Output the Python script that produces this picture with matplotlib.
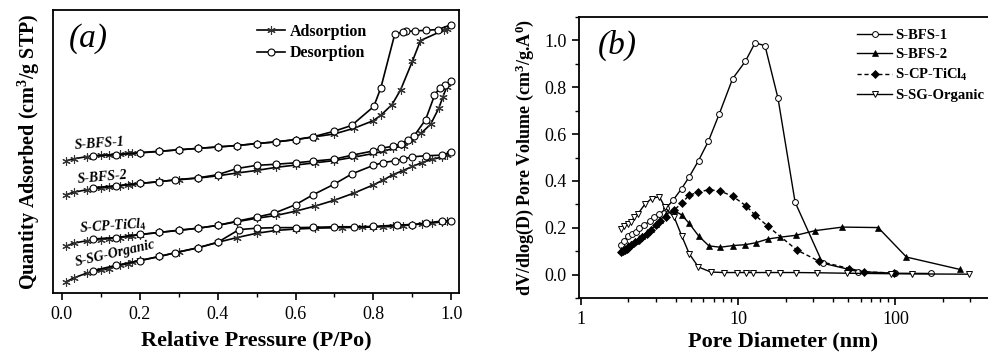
import matplotlib
matplotlib.use("Agg")
import matplotlib.pyplot as plt
from matplotlib.ticker import MultipleLocator, LogLocator, NullFormatter, NullLocator

plt.rcParams['font.family'] = ['Liberation Serif', 'DejaVu Serif']
plt.rcParams['mathtext.fontset'] = 'custom'
plt.rcParams['mathtext.rm'] = 'Liberation Serif'
plt.rcParams['mathtext.bf'] = 'Liberation Serif:bold'
plt.rcParams['mathtext.it'] = 'Liberation Serif:italic'
plt.rcParams['mathtext.default'] = 'bf'

# ---------------- Panel (a): isotherms (arbitrary units, no y scale) ----------------
bfs1_ads_p = [0.01,0.03,0.065,0.1,0.12,0.15,0.17,0.18,0.2,0.25,0.3,0.35,0.4,0.45,0.5,0.55,0.6,0.65,0.7,0.75,0.8,0.82,0.848,0.87,0.9,0.921,0.981,0.99]
bfs1_ads_q = [46.7,47.4,48.2,48.7,48.8,49.2,49.3,49.4,49.6,50.1,50.6,51.1,51.6,52.1,52.8,53.4,54.2,55.2,56.2,58.2,60.9,62.9,66.6,71.8,81.8,89.2,92.9,93.4]
bfs1_des_p = [1.0,0.966,0.934,0.906,0.883,0.877,0.855,0.819,0.801,0.744,0.698,0.645,0.6,0.55,0.5,0.45,0.4,0.35,0.3,0.25,0.2,0.14,0.08]
bfs1_des_q = [94.8,93.1,92.8,92.6,92.4,92.2,91.5,72.4,65.9,59.2,57.1,55.2,54.2,53.4,52.8,52.1,51.6,51.1,50.6,50.0,49.5,48.9,48.4]

bfs2_ads_p = [0.01,0.03,0.065,0.1,0.12,0.15,0.17,0.18,0.2,0.25,0.3,0.35,0.4,0.45,0.5,0.55,0.6,0.65,0.7,0.75,0.8,0.825,0.85,0.878,0.9,0.923,0.947,0.968,0.979,0.988]
bfs2_ads_q = [34.7,35.6,36.5,37.1,37.3,37.9,38.2,38.5,38.7,39.4,40.0,40.6,41.4,42.4,43.3,44.4,45.2,46.0,46.8,48.0,49.3,50.0,51.1,52.1,54.1,56.5,59.6,65.3,69.4,72.7]
bfs2_des_p = [1.0,0.985,0.97,0.957,0.934,0.905,0.888,0.87,0.85,0.82,0.8,0.745,0.7,0.645,0.6,0.55,0.5,0.45,0.4,0.35,0.29,0.25,0.2,0.14,0.08]
bfs2_des_q = [74.9,73.5,72.5,69.8,61.2,55.6,54.1,52.7,51.8,51.2,50.2,48.7,47.3,46.6,46.0,45.5,45.1,44.0,41.8,40.7,40.0,39.3,38.7,37.9,37.2]

cp_ads_p = [0.01,0.03,0.065,0.1,0.12,0.15,0.17,0.18,0.2,0.25,0.3,0.35,0.4,0.45,0.5,0.55,0.6,0.65,0.7,0.75,0.8,0.825,0.85,0.875,0.9,0.925,0.95,0.975,0.99]
cp_ads_q = [16.5,17.6,18.5,18.9,19.2,19.6,20.0,20.2,20.6,21.4,22.2,22.9,23.9,25.2,26.4,27.4,28.9,30.7,32.8,35.3,38.2,39.9,41.8,43.2,44.7,46.1,47.2,48.0,48.6]
cp_des_p = [1.0,0.975,0.935,0.9,0.875,0.855,0.825,0.8,0.745,0.7,0.645,0.6,0.545,0.5,0.45,0.4,0.35,0.3,0.25,0.2,0.14,0.08]
cp_des_q = [49.8,48.7,48.5,48.1,47.3,46.7,46.1,45.1,42.1,38.5,34.7,31.2,28.2,26.8,25.4,23.9,22.9,22.1,21.4,20.7,19.6,19.1]

sg_ads_p = [0.01,0.03,0.065,0.1,0.12,0.15,0.17,0.18,0.2,0.25,0.3,0.35,0.4,0.45,0.5,0.55,0.6,0.65,0.72,0.77,0.8,0.825,0.85,0.875,0.9,0.925,0.95,0.975,0.99]
sg_ads_q = [3.9,5.3,7.1,8.0,8.6,9.8,10.4,10.8,11.5,12.9,14.5,16.0,17.9,19.6,21.1,22.1,22.6,22.9,23.1,23.2,23.3,23.4,23.5,23.8,24.1,24.4,24.7,25.1,25.4]
sg_des_p = [1.0,0.975,0.935,0.9,0.86,0.8,0.75,0.7,0.645,0.6,0.55,0.5,0.455,0.4,0.35,0.29,0.25,0.2,0.14,0.08]
sg_des_q = [25.6,25.4,24.7,24.2,24.0,23.5,23.4,23.4,23.2,23.1,23.1,22.9,22.4,17.9,16.0,14.2,12.9,11.4,9.8,7.9]

iso_names = ['S-BFS-1', 'S-BFS-2', 'S-CP-TiCl$_4$', 'S-SG-Organic']
a_xticks = [0.0, 0.2, 0.4, 0.6, 0.8, 1.0]

# ---------------- Panel (b): pore size distributions ----------------
bfs1_d = [1.80,1.88,1.98,2.10,2.24,2.35,2.53,2.76,2.92,3.15,3.47,3.86,4.36,4.88,5.59,6.46,7.57,9.2,11.1,12.8,14.8,17.9,23.0,34.4,58,100,168]
bfs1_v = [0.127,0.143,0.164,0.172,0.184,0.198,0.213,0.23,0.244,0.257,0.283,0.319,0.367,0.418,0.487,0.570,0.686,0.836,0.911,0.990,0.977,0.753,0.309,0.049,0.013,0.006,0.005]

bfs2_d = [1.80,1.85,1.90,1.95,2.0,2.08,2.2,2.32,2.45,2.61,2.8,3.0,3.2,3.47,3.9,4.36,4.86,5.6,6.5,7.7,9.2,11.1,12.9,15.4,18.5,23.3,30.9,46,77.6,117.5,258]
bfs2_v = [0.105,0.11,0.115,0.12,0.125,0.13,0.142,0.155,0.165,0.18,0.195,0.215,0.235,0.258,0.275,0.255,0.22,0.165,0.123,0.117,0.124,0.128,0.136,0.152,0.16,0.168,0.188,0.203,0.201,0.075,0.022]

cp_d = [1.80,1.85,1.90,1.95,2.0,2.08,2.2,2.32,2.45,2.61,2.8,3.0,3.2,3.47,3.9,4.36,4.86,5.58,6.47,7.6,9.2,11.2,12.8,15.4,23.6,32.7,51,63,98]
cp_v = [0.095,0.10,0.105,0.11,0.115,0.125,0.138,0.15,0.16,0.172,0.19,0.21,0.228,0.248,0.275,0.305,0.338,0.353,0.362,0.358,0.335,0.294,0.254,0.207,0.105,0.057,0.026,0.012,0.007]

sg_d = [1.80,1.88,1.98,2.08,2.18,2.29,2.55,2.81,3.15,3.42,3.92,4.36,4.88,5.57,6.7,8.15,9.77,11.2,12.5,15.4,18.4,23.3,31.9,49.5,93.5,128,294]
sg_v = [0.195,0.209,0.216,0.226,0.244,0.258,0.301,0.325,0.333,0.287,0.244,0.167,0.089,0.033,0.011,0.009,0.009,0.009,0.009,0.009,0.009,0.009,0.008,0.006,0.004,0.003,0.002]

b_yticks = [0.0, 0.2, 0.4, 0.6, 0.8, 1.0]

# ---------------- Figure ----------------
fig = plt.figure(figsize=(9.88, 3.54), dpi=100)
axa = fig.add_axes([0.0536, 0.1723, 0.411, 0.7995])
axb = fig.add_axes([0.586, 0.158, 0.4135, 0.794])

ads_style = dict(color='black', lw=1.2, marker=(6, 2, 0), ms=6, mew=0.8, mec='#333333')
des_style = dict(color='black', lw=1.2, marker='o', ms=5, mfc='white', mec='black', mew=0.8)

iso_data = [(bfs1_ads_p, bfs1_ads_q, bfs1_des_p, bfs1_des_q),
            (bfs2_ads_p, bfs2_ads_q, bfs2_des_p, bfs2_des_q),
            (cp_ads_p, cp_ads_q, cp_des_p, cp_des_q),
            (sg_ads_p, sg_ads_q, sg_des_p, sg_des_q)]
for i, (ap, aq, dp, dq) in enumerate(iso_data):
    axa.plot(ap, aq, label='Adsorption' if i == 0 else None, zorder=2, **ads_style)
    axa.plot(dp, dq, label='Desorption' if i == 0 else None, zorder=3, **des_style)

axa.set_xlim(-0.023, 1.02)
axa.set_ylim(0, 100)
axa.set_xticks(a_xticks)
axa.set_xticklabels(['%.1f' % t for t in a_xticks])
axa.xaxis.set_minor_locator(MultipleLocator(0.1))
axa.yaxis.set_major_locator(NullLocator())
axa.tick_params(axis='x', which='major', direction='out', length=5, width=1.2, labelsize=13, pad=4)
axa.tick_params(axis='x', which='minor', direction='out', length=3, width=1.0)
for s in axa.spines.values():
    s.set_linewidth(1.3)
axa.set_xlabel('Relative Pressure (P/Po)', fontsize=16, fontweight='bold', labelpad=6)
axa.set_ylabel('Quantity Adsorbed (cm$^3$/g STP)', fontsize=14.5, fontweight='bold', labelpad=8)
axa.text(0.04, 0.9, '(a)', transform=axa.transAxes, fontsize=24, style='italic', va='center')

lab_pos = [(0.034, 50.8, 4), (0.040, 39.0, 5), (0.045, 21.4, 4), (0.036, 9.6, 13)]
for name, (x, y, r) in zip(iso_names, lab_pos):
    axa.text(x, y, name, fontsize=10, fontweight='bold', style='italic',
             rotation=r, rotation_mode='anchor', ha='left', va='baseline')

axa.legend(loc='upper left', bbox_to_anchor=(0.48, 0.985), frameon=False,
           prop={'weight': 'bold', 'size': 11.5}, handlelength=1.7,
           handletextpad=0.3, labelspacing=0.35, borderaxespad=0.2)

# Panel (b)
axb.plot(bfs1_d, bfs1_v, color='black', lw=1.0, marker='o', ms=4.2, mfc='white', mec='black', mew=0.7, label='S-BFS-1', zorder=3)
axb.plot(bfs2_d, bfs2_v, color='black', lw=1.0, marker='^', ms=5, mfc='black', mec='black', mew=0.5, label='S-BFS-2', zorder=3)
axb.plot(cp_d, cp_v, color='black', lw=1.0, ls=(0, (3, 2)), marker='D', ms=4.2, mfc='black', mec='black', mew=0.5, label='S-CP-TiCl$_4$', zorder=3)
axb.plot(sg_d, sg_v, color='black', lw=1.0, marker='v', ms=5, mfc='white', mec='black', mew=0.7, label='S-SG-Organic', zorder=3)

axb.set_xscale('log')
axb.set_xlim(0.97, 385)
axb.set_ylim(-0.1, 1.1)
axb.set_yticks(b_yticks)
axb.set_yticklabels(['%.1f' % t for t in b_yticks])
axb.yaxis.set_minor_locator(MultipleLocator(0.1))
axb.xaxis.set_minor_locator(LogLocator(base=10, subs=[2, 3, 4, 5, 6, 7, 8, 9], numticks=20))
axb.xaxis.set_minor_formatter(NullFormatter())
axb.set_xticks([1, 10, 100])
axb.set_xticklabels(['1', '10', '100'])
axb.tick_params(which='major', direction='out', length=5, width=1.2, labelsize=13, pad=4)
axb.tick_params(which='minor', direction='out', length=3, width=1.0)
axb.spines['right'].set_visible(False)
for s in ['left', 'bottom', 'top']:
    axb.spines[s].set_linewidth(1.3)
axb.set_xlabel('Pore Diameter (nm)', fontsize=16, fontweight='bold', labelpad=3)
axb.set_ylabel('dV/dlog(D) Pore Volume (cm$^3$/g.A$^0$)', fontsize=13, fontweight='bold', labelpad=6)
axb.text(0.045, 0.9, '(b)', transform=axb.transAxes, fontsize=24, style='italic', va='center')

axb.legend(loc='upper left', bbox_to_anchor=(0.66, 0.99), frameon=False,
           prop={'weight': 'bold', 'size': 10.5}, handlelength=2.4,
           handletextpad=0.2, labelspacing=0.4, borderaxespad=0.2)

fig.savefig('out.png', dpi=100)
